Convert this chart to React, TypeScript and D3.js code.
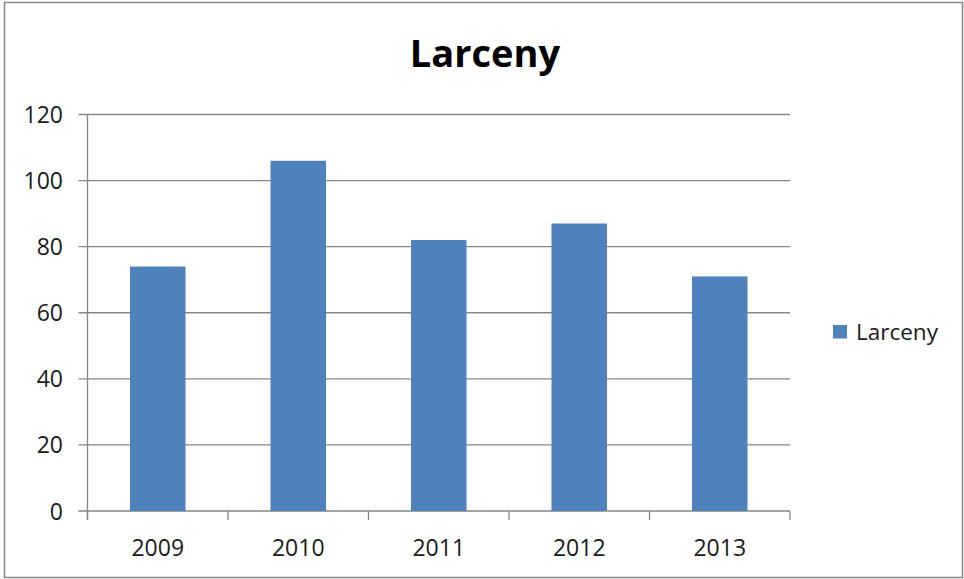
import React, { useEffect, useRef } from "react";
import * as d3 from "d3";

const years = ["2009", "2010", "2011", "2012", "2013"];
const larceny = [74, 106, 82, 87, 71];
const yTicks = [0, 20, 40, 60, 80, 100, 120];
const seriesName = "Larceny";

const App = () => {
  const chartRef = useRef<SVGSVGElement>(null);

  useEffect(() => {
    drawChart();
  }, []);

  const drawChart = () => {
    const svg = d3.select(chartRef.current);
    svg.selectAll("*").remove();

    const width = 964;
    const height = 579;
    const plot = { left: 87.5, right: 790, top: 114.5, bottom: 511 };
    const font = "'Open Sans', sans-serif";

    svg
      .append("rect")
      .attr("x", 0)
      .attr("y", 0)
      .attr("width", width)
      .attr("height", height)
      .attr("fill", "#fff");

    // outer frame
    svg
      .append("rect")
      .attr("x", 4.5)
      .attr("y", 2.5)
      .attr("width", 958)
      .attr("height", 575)
      .attr("fill", "none")
      .attr("stroke", "#868686")
      .attr("stroke-width", 1.5);

    const x = d3
      .scaleBand()
      .domain(years)
      .range([plot.left, plot.right])
      .paddingInner(0.605)
      .paddingOuter(0.3025);

    const y = d3
      .scaleLinear()
      .domain([0, 120])
      .range([plot.bottom, plot.top]);

    // gridlines
    svg
      .append("g")
      .selectAll("line")
      .data(yTicks)
      .enter()
      .append("line")
      .attr("x1", plot.left - 9)
      .attr("x2", plot.right)
      .attr("y1", (d) => y(d))
      .attr("y2", (d) => y(d))
      .attr("stroke", "#868686")
      .attr("stroke-width", 1.3);

    // y axis line
    svg
      .append("line")
      .attr("x1", plot.left)
      .attr("x2", plot.left)
      .attr("y1", plot.top)
      .attr("y2", plot.bottom + 9)
      .attr("stroke", "#868686")
      .attr("stroke-width", 1.3);

    // x ticks at band boundaries
    const step = x.step();
    const boundaries = d3.range(years.length + 1).map((i) => plot.left + i * step);
    svg
      .append("g")
      .selectAll("line")
      .data(boundaries)
      .enter()
      .append("line")
      .attr("x1", (d) => d)
      .attr("x2", (d) => d)
      .attr("y1", plot.bottom)
      .attr("y2", plot.bottom + 9)
      .attr("stroke", "#868686")
      .attr("stroke-width", 1.3);

    // y labels
    svg
      .append("g")
      .selectAll("text")
      .data(yTicks)
      .enter()
      .append("text")
      .attr("x", 63)
      .attr("y", (d) => y(d) + 8.5)
      .attr("text-anchor", "end")
      .attr("font-family", font)
      .attr("font-size", 23)
      .attr("fill", "#1a1a1a")
      .text((d) => d);

    // x labels
    svg
      .append("g")
      .selectAll("text")
      .data(years)
      .enter()
      .append("text")
      .attr("x", (d) => (x(d) as number) + x.bandwidth() / 2)
      .attr("y", 556)
      .attr("text-anchor", "middle")
      .attr("font-family", font)
      .attr("font-size", 23)
      .attr("fill", "#1a1a1a")
      .text((d) => d);

    // bars
    svg
      .append("g")
      .selectAll("rect")
      .data(larceny)
      .enter()
      .append("rect")
      .attr("x", (d, i) => x(years[i]) as number)
      .attr("y", (d) => y(d))
      .attr("width", x.bandwidth())
      .attr("height", (d) => plot.bottom - y(d))
      .attr("fill", "#4F81BD");

    // title
    svg
      .append("text")
      .attr("x", 485)
      .attr("y", 67)
      .attr("text-anchor", "middle")
      .attr("font-family", font)
      .attr("font-weight", "bold")
      .attr("font-size", 38)
      .attr("fill", "#000")
      .text(seriesName);

    // legend
    svg
      .append("rect")
      .attr("x", 833)
      .attr("y", 325)
      .attr("width", 14)
      .attr("height", 13.5)
      .attr("fill", "#4F81BD");

    svg
      .append("text")
      .attr("x", 856)
      .attr("y", 340)
      .attr("font-family", font)
      .attr("font-size", 22.5)
      .attr("fill", "#1a1a1a")
      .text(seriesName);
  };

  return (
    <svg
      ref={chartRef}
      width={964}
      height={579}
      style={{ position: "absolute", left: 0, top: 0 }}
    ></svg>
  );
};

export default App;
